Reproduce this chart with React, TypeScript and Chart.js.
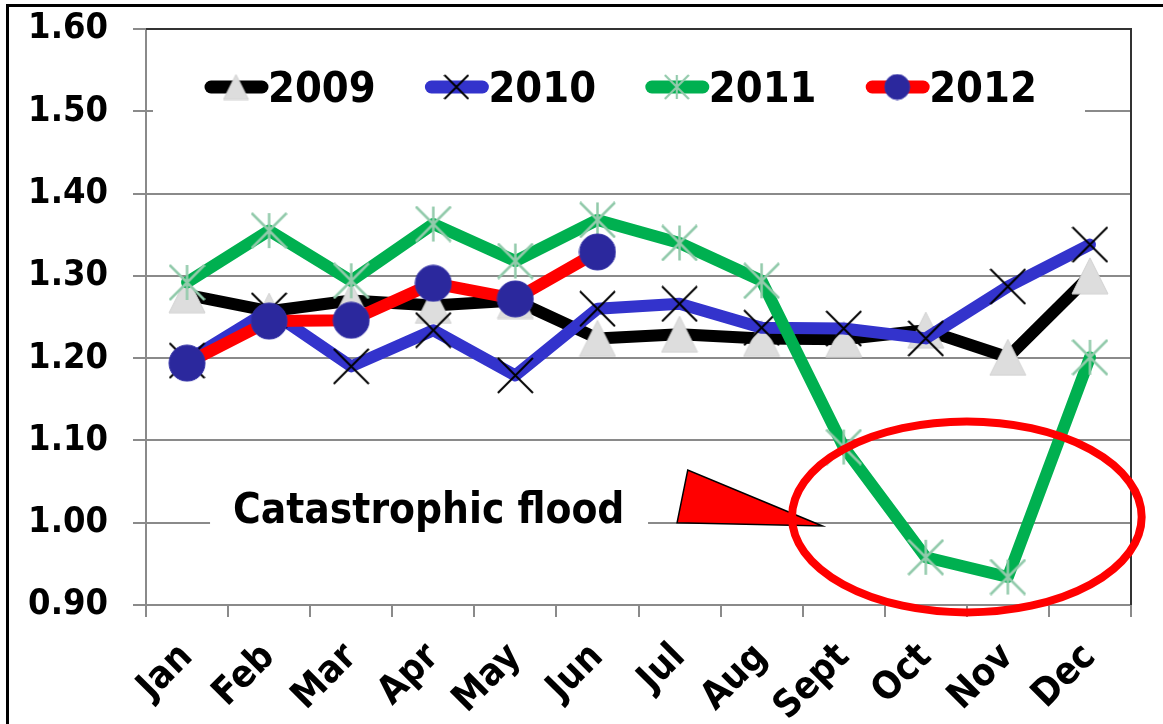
import React, { useEffect, useRef } from 'react';
import { Chart, registerables } from 'chart.js';

Chart.register(...registerables);

// ---------- data ----------
const months = ['Jan', 'Feb', 'Mar', 'Apr', 'May', 'Jun', 'Jul', 'Aug', 'Sept', 'Oct', 'Nov', 'Dec'];
const seriesNames = ['2009', '2010', '2011', '2012'];
const values2009 = [1.277, 1.257, 1.27, 1.264, 1.27, 1.224, 1.229, 1.224, 1.223, 1.234, 1.201, 1.3];
const values2010 = [1.197, 1.258, 1.19, 1.234, 1.179, 1.26, 1.266, 1.237, 1.236, 1.224, 1.287, 1.338];
const values2011 = [1.292, 1.355, 1.294, 1.363, 1.318, 1.368, 1.34, 1.294, 1.092, 0.958, 0.934, 1.201];
const values2012 = [1.194, 1.245, 1.246, 1.291, 1.272, 1.329, null, null, null, null, null, null];
const yMin = 0.9;
const yMax = 1.6;
const yStep = 0.1;
const annotationText = 'Catastrophic flood';

const FONT = '"DejaVu Sans Condensed", "DejaVu Sans", sans-serif';

function makeTriangle(size: number) {
  const c = document.createElement('canvas');
  c.width = size + 2;
  c.height = size + 2;
  const g = c.getContext('2d')!;
  g.fillStyle = '#DDDDDD';
  g.strokeStyle = '#D2D2D2';
  g.lineWidth = 1;
  g.beginPath();
  g.moveTo(1 + size / 2, 1);
  g.lineTo(1 + size, 1 + size);
  g.lineTo(1, 1 + size);
  g.closePath();
  g.fill();
  g.stroke();
  return c;
}

function makeStar(size: number, lw: number) {
  const c = document.createElement('canvas');
  c.width = size + 2;
  c.height = size + 2;
  const g = c.getContext('2d')!;
  g.strokeStyle = '#92CAAB';
  g.lineWidth = lw;
  g.beginPath();
  g.moveTo(1 + size / 2, 1);
  g.lineTo(1 + size / 2, 1 + size);
  g.moveTo(1, 1);
  g.lineTo(1 + size, 1 + size);
  g.moveTo(1 + size, 1);
  g.lineTo(1, 1 + size);
  g.stroke();
  return c;
}

function makeCross(size: number, lw: number) {
  const c = document.createElement('canvas');
  c.width = size + 2;
  c.height = size + 2;
  const g = c.getContext('2d')!;
  g.strokeStyle = '#000000';
  g.lineWidth = lw;
  g.beginPath();
  g.moveTo(1, 1);
  g.lineTo(1 + size, 1 + size);
  g.moveTo(1 + size, 1);
  g.lineTo(1, 1 + size);
  g.stroke();
  return c;
}

function makeCircle(size: number) {
  const c = document.createElement('canvas');
  c.width = size + 2;
  c.height = size + 2;
  const g = c.getContext('2d')!;
  g.fillStyle = '#2B289D';
  g.strokeStyle = '#3331A6';
  g.lineWidth = 1;
  g.beginPath();
  g.arc(1 + size / 2, 1 + size / 2, size / 2, 0, Math.PI * 2);
  g.fill();
  g.stroke();
  return c;
}

export default function App() {
  const ref = useRef<HTMLCanvasElement | null>(null);

  useEffect(() => {
    if (!ref.current) return;
    const tri = makeTriangle(36);
    const cross = makeCross(35, 2);
    const star = makeStar(35, 2.5);
    const circ = makeCircle(36);
    const triL = makeTriangle(25);
    const crossL = makeCross(24, 2);
    const starL = makeStar(24, 2.2);
    const circL = makeCircle(25);

    const lineColors = ['#000000', '#3333CC', '#00B050', '#FF0000'];
    const legendMarkers = [triL, crossL, starL, circL];

    const decor = {
      id: 'decor',
      afterDraw(chart: any) {
        const ctx = chart.ctx as CanvasRenderingContext2D;
        const a = chart.chartArea;
        const xs = chart.scales.x;
        const ys = chart.scales.y;
        ctx.save();
        // plot frame (top/right)
        ctx.strokeStyle = '#333333';
        ctx.lineWidth = 2;
        ctx.beginPath();
        ctx.moveTo(a.left, a.top);
        ctx.lineTo(a.right, a.top);
        ctx.lineTo(a.right, a.bottom);
        ctx.stroke();

        // outer frame
        ctx.strokeStyle = '#000000';
        ctx.lineWidth = 3;
        ctx.beginPath();
        ctx.moveTo(7.5, chart.height + 2);
        ctx.lineTo(7.5, 5.5);
        ctx.lineTo(chart.width + 2, 5.5);
        ctx.stroke();

        // legend
        ctx.fillStyle = '#FFFFFF';
        ctx.fillRect(a.left + 7, 50, 932, 76);
        const legY = 87;
        const startX = 205;
        const gap = 220.4;
        ctx.font = 'bold 43px ' + FONT;
        ctx.textBaseline = 'alphabetic';
        ctx.textAlign = 'left';
        seriesNames.forEach((name, i) => {
          const sx = startX + i * gap;
          ctx.strokeStyle = lineColors[i];
          ctx.lineWidth = 13;
          ctx.lineCap = 'round';
          ctx.beginPath();
          ctx.moveTo(sx + 6, legY);
          ctx.lineTo(sx + 57, legY);
          ctx.stroke();
          const m = legendMarkers[i];
          ctx.drawImage(m, sx + 31 - m.width / 2, legY - m.height / 2);
          ctx.fillStyle = '#000000';
          ctx.fillText(name, sx + 63, 102);
        });

        // annotation text box
        const y1 = ys.getPixelForValue(1.0);
        ctx.fillStyle = '#FFFFFF';
        ctx.fillRect(xs.getPixelForValue(0) + 23, y1 - 50, 438, 80);
        ctx.fillStyle = '#000000';
        ctx.font = 'bold 42px ' + FONT;
        ctx.fillText(annotationText, xs.getPixelForValue(0) + 46, y1);

        // arrow triangle
        ctx.fillStyle = '#FF0000';
        ctx.strokeStyle = '#000000';
        ctx.lineWidth = 1.5;
        ctx.lineJoin = 'miter';
        ctx.beginPath();
        ctx.moveTo(xs.getPixelForValue(6.1), ys.getPixelForValue(1.064));
        ctx.lineTo(xs.getPixelForValue(5.97), ys.getPixelForValue(1.0));
        ctx.lineTo(xs.getPixelForValue(7.74), ys.getPixelForValue(0.996));
        ctx.closePath();
        ctx.fill();
        ctx.stroke();

        // ellipse
        const cx = xs.getPixelForValue(9.5);
        const cy = ys.getPixelForValue(1.007);
        const rx = xs.getPixelForValue(9.5 + 2.13) - cx;
        const ry = cy - ys.getPixelForValue(1.007 + 0.116);
        ctx.strokeStyle = '#FF0000';
        ctx.lineWidth = 8;
        ctx.beginPath();
        ctx.ellipse(cx, cy, rx, ry, 0, 0, Math.PI * 2);
        ctx.stroke();
        ctx.restore();
      },
    };

    const chart = new Chart(ref.current, {
      type: 'line',
      data: {
        labels: months,
        datasets: [
          {
            label: seriesNames[0],
            data: values2009,
            borderColor: lineColors[0],
            backgroundColor: '#DDDDDD',
            borderWidth: 12,
            pointStyle: tri as any,
            pointRadius: 18,
            order: 4,
          },
          {
            label: seriesNames[1],
            data: values2010,
            borderColor: lineColors[1],
            backgroundColor: '#000000',
            borderWidth: 12,
            pointStyle: cross as any,
            pointRadius: 18,
            order: 3,
          },
          {
            label: seriesNames[2],
            data: values2011,
            borderColor: lineColors[2],
            backgroundColor: '#92CAAB',
            borderWidth: 12,
            pointStyle: star as any,
            pointRadius: 18,
            order: 2,
          },
          {
            label: seriesNames[3],
            data: values2012,
            borderColor: lineColors[3],
            backgroundColor: '#2B289D',
            borderWidth: 12,
            pointStyle: circ as any,
            pointRadius: 18,
            order: 1,
          },
        ],
      },
      options: {
        responsive: false,
        animation: false,
        events: [],
        layout: { autoPadding: false, padding: { top: 29, right: 32, left: 0, bottom: 0 } },
        elements: {
          line: { tension: 0, borderJoinStyle: 'round', borderCapStyle: 'round' },
        },
        plugins: {
          legend: { display: false },
          tooltip: { enabled: false },
          title: { display: false },
        },
        scales: {
          x: {
            offset: true,
            afterFit: (s: any) => {
              s.height = 119;
              s.paddingLeft = 0;
              s.paddingRight = 0;
            },
            grid: {
              offset: true,
              drawOnChartArea: false,
              drawTicks: true,
              tickLength: 12,
              color: '#8A8A8A',
              lineWidth: 2,
            },
            border: { color: '#8A8A8A', width: 2 },
            ticks: {
              autoSkip: false,
              minRotation: 45,
              maxRotation: 45,
              padding: 18,
              color: '#000000',
              font: { family: FONT, size: 38, weight: 'bold' },
            },
          },
          y: {
            min: yMin,
            max: yMax,
            afterFit: (s: any) => {
              s.width = 146;
              s.paddingTop = 0;
              s.paddingBottom = 0;
            },
            grid: {
              color: '#8A8A8A',
              lineWidth: 2,
              tickLength: 13,
              drawTicks: true,
            },
            border: { color: '#8A8A8A', width: 2 },
            ticks: {
              stepSize: yStep,
              padding: 25,
              color: '#000000',
              font: { family: FONT, size: 36, weight: 'bold' },
              callback: (v: any) => Number(v).toFixed(2),
            },
          },
        },
      },
      plugins: [decor],
    });
    return () => chart.destroy();
  }, []);

  return (
    <div style={{ position: 'fixed', left: 0, top: 0, width: 1163, height: 724, background: '#FFFFFF' }}>
      <canvas ref={ref} width={1163} height={724} style={{ display: 'block' }} />
    </div>
  );
}
